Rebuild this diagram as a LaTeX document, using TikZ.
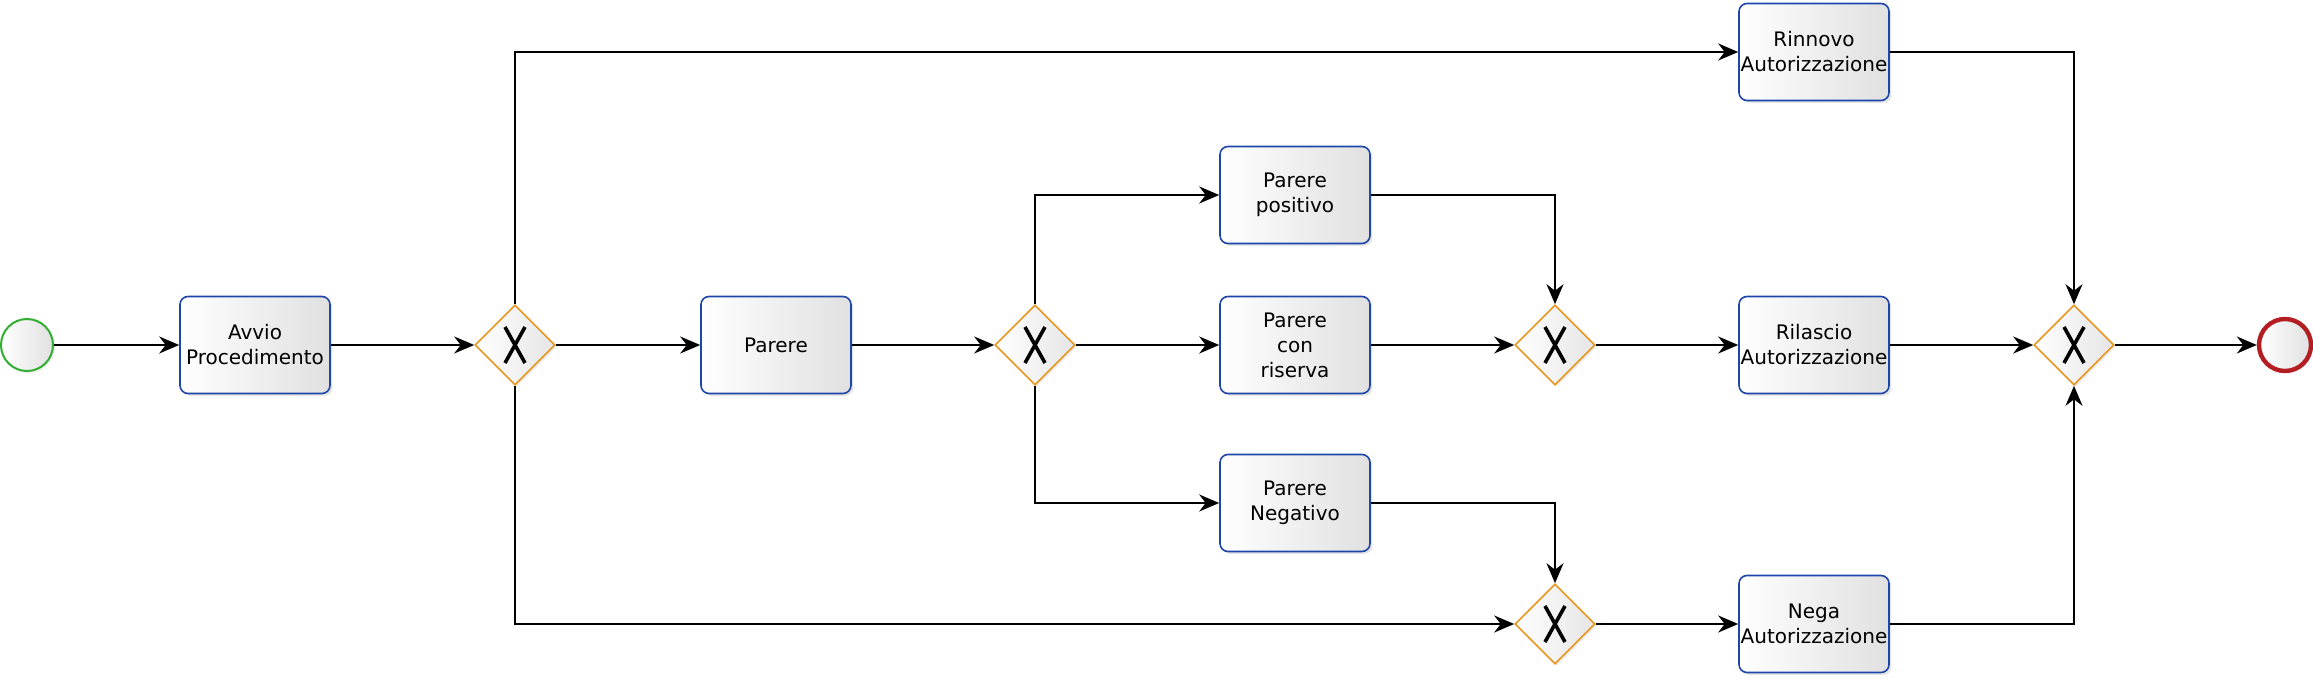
\documentclass[tikz,border=0pt]{standalone}
\usepackage{fontspec}
\setmainfont{DejaVu Sans}
\usetikzlibrary{shapes.geometric,arrows.meta,shadows}
\definecolor{taskblue}{RGB}{30,70,170}
\definecolor{gateorange}{RGB}{232,150,30}
\definecolor{startgreen}{RGB}{50,175,50}
\definecolor{endred}{RGB}{180,30,35}
\begin{document}
\begin{tikzpicture}[x=0.5pt,y=-0.5pt,>={Stealth[length=10pt,width=8.5pt]},
	task/.style={draw=taskblue,line width=0.8pt,rounded corners=4pt,minimum width=75pt,minimum height=48.5pt,inner sep=0pt,align=center,
		font=\fontsize{10}{12.5}\selectfont,left color=white,right color=black!12,
		drop shadow={opacity=0.2,shadow xshift=1.2pt,shadow yshift=-1.2pt}},
	gate/.style={diamond,draw=gateorange,line width=0.8pt,minimum width=40pt,minimum height=40pt,inner sep=0pt,
		left color=white,right color=black!10,drop shadow={opacity=0.15,shadow xshift=1pt,shadow yshift=-1pt},
		path picture={\draw[black,line width=1.8pt](path picture bounding box.center)+(-5pt,9pt)--+(5pt,-9pt) +(5pt,9pt)--+(-5pt,-9pt);}},
	event/.style={circle,minimum size=26pt,inner sep=0pt,left color=white,right color=black!12,
		drop shadow={opacity=0.15,shadow xshift=1pt,shadow yshift=-1pt}},
	flow/.style={->,line width=1pt}]
	\useasboundingbox(0,0)rectangle(2313,679);
	\node[event,draw=startgreen,line width=1pt](start)at(27,345){};
	\node[task](avvio)at(255,345){Avvio\\Procedimento};
	\node[gate](g1)at(515,345){};
	\node[task](parere)at(776,345){Parere};
	\node[gate](g2)at(1035,345){};
	\node[task](positivo)at(1295,195){Parere\\positivo};
	\node[task](riserva)at(1295,345){Parere\\con\\riserva};
	\node[task](negativo)at(1295,503){Parere\\Negativo};
	\node[gate](g3)at(1555,345){};
	\node[gate](g4)at(1555,624){};
	\node[task](rinnovo)at(1814,52){Rinnovo\\Autorizzazione};
	\node[task](rilascio)at(1814,345){Rilascio\\Autorizzazione};
	\node[task](nega)at(1814,624){Nega\\Autorizzazione};
	\node[gate](g5)at(2074,345){};
	\node[event,draw=endred,line width=2.2pt](fine)at(2285,345){};
	\draw[flow](start)--(avvio);
	\draw[flow](avvio)--(g1);
	\draw[flow](g1)--(parere);
	\draw[flow](g1.north)|-(rinnovo.west);
	\draw[flow](g1.south)|-(g4.west);
	\draw[flow](parere)--(g2);
	\draw[flow](g2.north)|-(positivo.west);
	\draw[flow](g2)--(riserva);
	\draw[flow](g2.south)|-(negativo.west);
	\draw[flow](positivo.east)-|(g3.north);
	\draw[flow](riserva)--(g3);
	\draw[flow](negativo.east)-|(g4.north);
	\draw[flow](g3)--(rilascio);
	\draw[flow](g4)--(nega);
	\draw[flow](rinnovo.east)-|(g5.north);
	\draw[flow](rilascio)--(g5);
	\draw[flow](nega.east)-|(g5.south);
	\draw[flow](g5)--(fine);
\end{tikzpicture}
\end{document}
